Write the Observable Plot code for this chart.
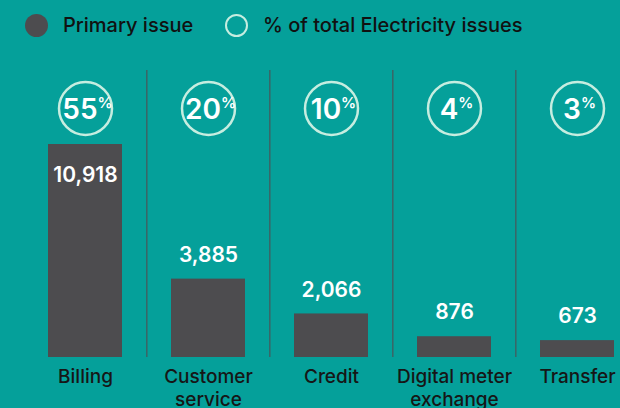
<!DOCTYPE html>
<html><head><meta charset="utf-8">
<script src="https://cdn.jsdelivr.net/npm/d3@7"></script>
<script src="https://cdn.jsdelivr.net/npm/@observablehq/plot@0.6"></script>
<style>
body{margin:0;}
#wrap{width:620px;height:408px;background:#05a09a;overflow:hidden;font-family:Inter,"Open Sans",sans-serif;}
#legend{height:50px;position:relative;}
.sw{position:absolute;top:14px;width:23px;height:23px;border-radius:50%;box-sizing:border-box;}
.lab{position:absolute;top:12px;font-size:20px;font-weight:500;color:#111;line-height:26px;white-space:nowrap;}
#chart svg{display:block;}
</style></head>
<body><div id="wrap"><div id="legend">
<span class="sw" style="left:25px;background:#4d4c4f"></span><span class="lab" style="left:63px">Primary issue</span>
<span class="sw" style="left:225px;border:2.5px solid #c6ede0"></span><span class="lab" style="left:263px">% of total Electricity issues</span>
</div><div id="chart"></div></div>
<script>
const categories = ["Billing", "Customer service", "Credit", "Digital meter exchange", "Transfer"];
const values = [10918, 3885, 2066, 876, 673];
const shares = [55, 20, 10, 4, 3];
const tickLabels = ["Billing", "Customer\nservice", "Credit", "Digital meter\nexchange", "Transfer"];

const data = categories.map((c, i) => ({category: c, value: values[i], share: shares[i], label: tickLabels[i]}));

const x0 = 22, x1 = 639;
const step = (x1 - x0) / categories.length;
const fmt = d3.format(",");

const chart = Plot.plot({
  width: 620, height: 358,
  marginTop: 0, marginBottom: 51, marginLeft: 0, marginRight: 0,
  style: {background: "transparent", fontFamily: "Inter, 'Open Sans', sans-serif", overflow: "visible"},
  x: {domain: categories, range: [x0, x1], paddingInner: 0.4, paddingOuter: 0.2, axis: null},
  y: {domain: [0, 10918], range: [303, 94], axis: null},
  marks: [
    Plot.ruleX(categories.slice(1), {x: d => d, dx: -step / 2, stroke: "#3b6466", strokeWidth: 1.5, insetTop: 20}),
    Plot.barY(data, {x: "category", y: "value", fill: "#4d4c4f", insetBottom: -4}),
    Plot.text(data.filter(d => d.value > 5000), {x: "category", y: "value", text: d => fmt(d.value), dy: 31, fill: "white", fontSize: 21, fontWeight: 600}),
    Plot.text(data.filter(d => d.value <= 5000), {x: "category", y: "value", text: d => fmt(d.value), dy: -24, fill: "white", fontSize: 21, fontWeight: 600}),
    Plot.dot(data, {x: "category", frameAnchor: "top", dy: 58, r: 26.5, stroke: "#c6ede0", strokeWidth: 2.5, fill: "none"}),
    Plot.text(data, {x: "category", frameAnchor: "top", lineAnchor: "middle", dy: 60, dx: 2, text: d => `${d.share}%`, fill: "white", fontSize: 28, fontWeight: 600}),
    Plot.text(data, {x: "category", frameAnchor: "bottom", dy: 10, text: "label", lineAnchor: "top", lineHeight: 1.17, fill: "#161616", fontSize: 19, fontWeight: 500})
  ]
});
document.getElementById("chart").appendChild(chart);

d3.select(chart).selectAll("text").each(function() {
  const t = this.textContent;
  if (!/^\d+%$/.test(t)) return;
  const num = t.replace("%", "");
  this.textContent = "";
  d3.select(this).append("tspan").text(num);
  d3.select(this).append("tspan").attr("font-size", 15).attr("dy", -11).text("%");
});
</script>
</body></html>
